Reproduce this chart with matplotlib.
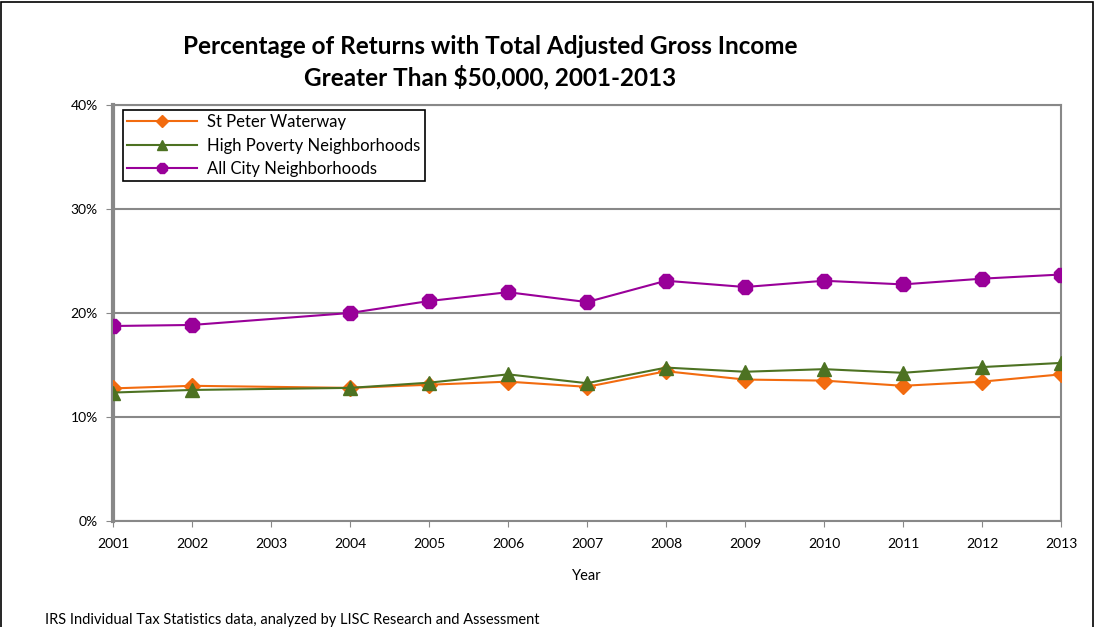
import matplotlib.pyplot as plt
from matplotlib.patches import Rectangle
from matplotlib.ticker import FuncFormatter

plt.rcParams['font.family'] = ['Lato', 'DejaVu Sans']

# data (percent); no 2003 values
years = [2001, 2002, 2004, 2005, 2006, 2007, 2008, 2009, 2010, 2011, 2012, 2013]
st_peter = [12.75, 13.0, 12.8, 13.1, 13.4, 12.9, 14.4, 13.6, 13.5, 13.0, 13.4, 14.1]
high_poverty = [12.35, 12.6, 12.8, 13.3, 14.1, 13.25, 14.75, 14.35, 14.6, 14.25, 14.8, 15.2]
all_city = [18.75, 18.85, 20.0, 21.15, 22.0, 21.05, 23.1, 22.5, 23.1, 22.75, 23.3, 23.7]
tick_years = list(range(2001, 2014))

fig = plt.figure(figsize=(10.95, 6.27), dpi=100)
ax = fig.add_axes([113 / 1095, 1 - 521 / 627, (1061 - 113) / 1095, (521 - 105) / 627])

ax.plot(years, st_peter, color='#F26B0F', lw=1.5, marker='D', ms=8,
        label='St Peter Waterway', zorder=3)
ax.plot(years, high_poverty, color='#4D7222', lw=1.5, marker='^', ms=10,
        label='High Poverty Neighborhoods', zorder=3)
ax.plot(years, all_city, color='#990099', lw=1.5, marker='8', ms=11,
        label='All City Neighborhoods', zorder=3)

ax.set_xlim(2001, 2013)
ax.set_ylim(0, 40)
ax.set_xticks(tick_years)
ax.set_xticklabels([str(y) for y in tick_years], fontsize=10)
ax.set_yticks([0, 10, 20, 30, 40])
ax.yaxis.set_major_formatter(FuncFormatter(lambda v, p: '%d%%' % v))
ax.tick_params(axis='y', labelsize=10, length=5, color='#888888', direction='out', pad=6)
ax.tick_params(axis='x', labelsize=10, length=4, color='#888888', direction='out', pad=8)
ax.grid(axis='y', color='#888888', lw=1.5)
ax.set_axisbelow(True)
for side in ['left', 'right', 'bottom', 'top']:
    ax.spines[side].set_color('#888888')
ax.spines['left'].set_linewidth(3)
ax.spines['right'].set_linewidth(1.5)
ax.spines['bottom'].set_linewidth(1.5)
ax.spines['top'].set_linewidth(1.5)

ax.set_xlabel('Year', fontsize=10.5, labelpad=14)

leg = ax.legend(loc='upper left', bbox_to_anchor=(0.0105, 0.988), fontsize=12,
                frameon=True, fancybox=False, edgecolor='black', framealpha=1,
                handlelength=4.2, handletextpad=0.6, markerscale=0.75,
                borderpad=0.25, labelspacing=0.45, borderaxespad=0)
leg.get_frame().set_linewidth(1.2)

fig.text(490 / 1095, 1 - 62 / 627,
         'Percentage of Returns with Total Adjusted Gross Income\nGreater Than $50,000, 2001-2013',
         ha='center', va='center', fontsize=17.5, fontweight='bold', linespacing=1.35)
fig.text(45 / 1095, 1 - 620 / 627,
         'IRS Individual Tax Statistics data, analyzed by LISC Research and Assessment',
         ha='left', va='center', fontsize=10.5)

fig.patches.append(Rectangle((1 / 1095, -0.1), 1092 / 1095, 1.1 - 2 / 627,
                             transform=fig.transFigure, fill=False,
                             edgecolor='black', lw=1.2))

fig.savefig('out.png', dpi=100)
